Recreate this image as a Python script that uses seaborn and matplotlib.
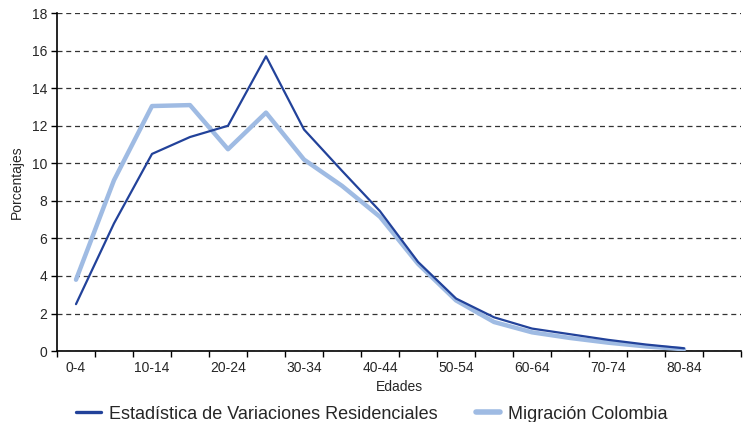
import numpy as np
import pandas as pd
import matplotlib
matplotlib.use('Agg')
import matplotlib.pyplot as plt
import seaborn as sns

# Age groups (18 slots on the axis, last one has no data)
edades = ['0-4', '5-9', '10-14', '15-19', '20-24', '25-29', '30-34', '35-39',
          '40-44', '45-49', '50-54', '55-59', '60-64', '65-69', '70-74',
          '75-79', '80-84', '85+']
evr = [2.5, 6.8, 10.5, 11.4, 12.0, 15.7, 11.8, 9.6, 7.45, 4.75, 2.8, 1.8,
       1.2, 0.9, 0.6, 0.35, 0.15]
migracion = [3.8, 9.1, 13.05, 13.1, 10.75, 12.7, 10.2, 8.8, 7.15, 4.65, 2.7,
             1.55, 1.0, 0.7, 0.45, 0.25, 0.1]
series_names = ['Estadística de Variaciones Residenciales', 'Migración Colombia']

df = pd.DataFrame({
    'pos': list(range(len(evr))) * 2,
    'valor': evr + migracion,
    'serie': [series_names[0]] * len(evr) + [series_names[1]] * len(migracion),
})

sns.set_style('white')
plt.rcParams['font.family'] = ['Liberation Sans', 'DejaVu Sans']

fig, ax = plt.subplots(figsize=(7.44, 4.22), dpi=100)
fig.subplots_adjust(left=0.0766, right=0.996, top=0.969, bottom=0.168)

palette = {series_names[0]: '#22429a', series_names[1]: '#9fbbe3'}
sns.lineplot(data=df, x='pos', y='valor', hue='serie', palette=palette,
             hue_order=series_names, ax=ax, legend=False)
ax.lines[0].set_linewidth(1.6)
ax.lines[1].set_linewidth(3.2)
ax.lines[0].set_zorder(4)
ax.lines[1].set_zorder(3)

ax.set_xlim(-0.5, len(edades) - 0.5)
ax.set_ylim(0, 18)
ax.set_yticks(np.arange(0, 19, 2))
ax.yaxis.grid(True, linestyle=(0, (4, 3)), color='#333333', linewidth=0.9)
ax.xaxis.grid(False)
ax.set_axisbelow(True)

# tick marks between categories, labels on every other category
ax.set_xticks(np.arange(-0.5, len(edades), 1.0))
ax.set_xticklabels([])
ax.set_xticks(np.arange(0, len(edades), 2), minor=True)
ax.set_xticklabels(edades[::2], minor=True)
ax.tick_params(axis='x', which='major', direction='out', length=4, width=1,
               color='black', bottom=True)
ax.tick_params(axis='x', which='minor', length=0, labelsize=10, pad=7)
ax.tick_params(axis='y', direction='out', length=4, width=1, color='black',
               left=True, labelsize=10, pad=3)

for side in ['top', 'right']:
    ax.spines[side].set_visible(False)
for side in ['left', 'bottom']:
    ax.spines[side].set_color('black')
    ax.spines[side].set_linewidth(1.2)

ax.set_xlabel('Edades', fontsize=10, labelpad=4)
ax.set_ylabel('Porcentajes', fontsize=10, labelpad=6)

handles = [plt.Line2D([], [], color=palette[series_names[0]], linewidth=2.4),
           plt.Line2D([], [], color=palette[series_names[1]], linewidth=4)]
fig.legend(handles, series_names, loc='lower center', ncol=2, frameon=False,
           fontsize=13, bbox_to_anchor=(0.5, -0.04), columnspacing=2.1,
           handlelength=1.35, handletextpad=0.45)

plt.savefig('out.png', dpi=100)
print("Figure save: out.png")
